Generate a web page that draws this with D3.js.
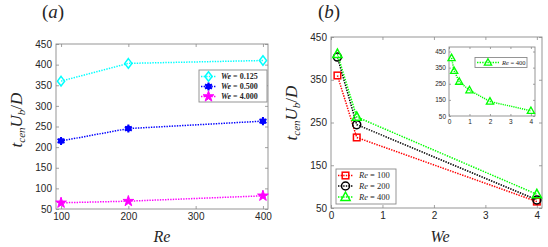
<!DOCTYPE html>
<html><head><meta charset="utf-8">
<script src="https://cdn.jsdelivr.net/npm/d3@7"></script>
<style>html,body{margin:0;padding:0;background:#fff;}svg{display:block;}</style>
</head><body>
<svg id="c" width="548" height="247"></svg>
<script>
// ---- data ----
const reA = [100, 200, 400];
const weLabelsA = ["0.125", "0.500", "4.000"];
const tA_we0125 = [360, 403, 410];
const tA_we0500 = [215, 245, 263];
const tA_we4000 = [65, 69, 82];
const xTicksA = [100, 200, 300, 400];
const yTicksA = [50, 100, 150, 200, 250, 300, 350, 400, 450];

const weB = [0.125, 0.5, 4];
const reLabelsB = ["100", "200", "400"];
const tB_re100 = [360, 215, 65];
const tB_re200 = [403, 245, 69];
const tB_re400 = [410, 263, 82];
const xTicksB = [0, 1, 2, 3, 4];
const yTicksB = [50, 150, 250, 350, 450];

const weInset = [0.125, 0.25, 0.5, 1, 2, 4];
const tInset = [410, 330, 263, 210, 140, 82];
const xTicksInset = [0, 1, 2, 3, 4];
const yTicksInset = [50, 150, 250, 350, 450];

// ---- drawing ----
const svg = d3.select("#c");
const AX = "#262626", FR = "#8a8a8a";
const sans = "Liberation Sans, Arial, sans-serif";
const serif = "Liberation Serif, Times New Roman, DejaVu Serif, serif";

function marker(g, type, color, x, y) {
  const sw = 1.5;
  if (type === "diamond") {
    g.append("path").attr("d", `M${x},${y-4.8}L${x+3.6},${y}L${x},${y+4.8}L${x-3.6},${y}Z`)
      .attr("fill", "none").attr("stroke", color).attr("stroke-width", sw);
  } else if (type === "asterisk") {
    g.append("circle").attr("cx", x).attr("cy", y).attr("r", 3).attr("fill", color);
    g.append("path").attr("d", d3.symbol(d3.symbolAsterisk, 45)()).attr("transform", `translate(${x},${y})`)
      .attr("fill", "none").attr("stroke", color).attr("stroke-width", 2);
  } else if (type === "star") {
    g.append("path").attr("d", d3.symbol(d3.symbolStar, 36)()).attr("transform", `translate(${x},${y})`)
      .attr("fill", color).attr("stroke", color).attr("stroke-width", 1);
  } else if (type === "square") {
    g.append("rect").attr("x", x-3.3).attr("y", y-3.3).attr("width", 6.6).attr("height", 6.6)
      .attr("fill", "none").attr("stroke", color).attr("stroke-width", sw);
  } else if (type === "circle") {
    g.append("circle").attr("cx", x).attr("cy", y).attr("r", 4)
      .attr("fill", "none").attr("stroke", color).attr("stroke-width", sw);
  } else if (type === "triangle") {
    g.append("path").attr("d", `M${x},${y-5}L${x+4.6},${y+3.4}L${x-4.6},${y+3.4}Z`)
      .attr("fill", "none").attr("stroke", color).attr("stroke-width", sw);
  } else if (type === "triangleSmall") {
    g.append("path").attr("d", `M${x},${y-3.8}L${x+3.6},${y+2.6}L${x-3.6},${y+2.6}Z`)
      .attr("fill", "none").attr("stroke", color).attr("stroke-width", 1.3);
  }
}

function series(g, xs, ys, x, y, color, type, dash) {
  const line = d3.line().x((d, i) => x(xs[i])).y(d => y(d));
  g.append("path").datum(ys).attr("d", line).attr("fill", "none")
    .attr("stroke", color).attr("stroke-width", 1.5).attr("stroke-dasharray", dash || "1.4,1.2");
  ys.forEach((v, i) => marker(g, type, color, x(xs[i]), y(v)));
}

function frame(g, x, y, xt, yt, fs, pad, tick) {
  const [x0, x1] = x.range(), [y0, y1] = y.range();
  const ax = g.append("g").attr("transform", `translate(0,${y0})`)
    .call(d3.axisBottom(x).tickValues(xt).tickSize(-tick).tickPadding(pad).tickFormat(d3.format("")));
  const ay = g.append("g").attr("transform", `translate(${x0},0)`)
    .call(d3.axisLeft(y).tickValues(yt).tickSize(-tick).tickPadding(pad).tickFormat(d3.format("")));
  const at = g.append("g").attr("transform", `translate(0,${y1})`)
    .call(d3.axisTop(x).tickValues(xt).tickSize(-tick).tickFormat(""));
  const ar = g.append("g").attr("transform", `translate(${x1},0)`)
    .call(d3.axisRight(y).tickValues(yt).tickSize(-tick).tickFormat(""));
  [ax, ay, at, ar].forEach(a => {
    a.attr("font-family", null).attr("font-size", null);
    a.select(".domain").remove();
    a.selectAll("line").attr("stroke", FR).attr("stroke-width", 0.8);
    a.selectAll("text").attr("fill", AX).attr("font-family", sans).attr("font-size", fs);
  });
  g.append("rect").attr("x", x0).attr("y", y1).attr("width", x1 - x0).attr("height", y0 - y1)
    .attr("fill", "none").attr("stroke", FR).attr("stroke-width", 0.9);
}

function ylabel(g, cx, cy) {
  const t = g.append("text").attr("transform", `translate(${cx},${cy}) rotate(-90)`)
    .attr("text-anchor", "middle").attr("font-family", serif).attr("font-size", 17)
    .attr("font-style", "italic").attr("fill", AX);
  t.append("tspan").text("t");
  t.append("tspan").text("cen").attr("font-size", 11).attr("dy", 3);
  t.append("tspan").text("U").attr("dy", -3);
  t.append("tspan").text("b").attr("font-size", 11).attr("dy", 3);
  t.append("tspan").text("/").attr("dy", -3).attr("font-style", "normal");
  t.append("tspan").text("D");
}

function title(g, x, y, letter) {
  const t = g.append("text").attr("x", x).attr("y", y).attr("font-family", serif)
    .attr("font-size", 19).attr("fill", AX);
  t.append("tspan").text("(");
  t.append("tspan").text(letter).attr("font-style", "italic");
  t.append("tspan").text(")");
}

function xlabel(g, cx, y, txt) {
  g.append("text").attr("x", cx).attr("y", y).attr("text-anchor", "middle")
    .attr("font-family", serif).attr("font-size", 16).attr("font-style", "italic")
    .attr("fill", AX).text(txt);
}

function legend(g, bx, by, bw, bh, items, lx0, lx1, tx, fs, bold) {
  g.append("rect").attr("x", bx).attr("y", by).attr("width", bw).attr("height", bh)
    .attr("fill", "#fff").attr("stroke", FR).attr("stroke-width", 0.9);
  items.forEach(it => {
    g.append("line").attr("x1", lx0).attr("x2", lx1).attr("y1", it.y).attr("y2", it.y)
      .attr("stroke", it.color).attr("stroke-width", 1.5).attr("stroke-dasharray", "1.4,1.2");
    marker(g, it.type, it.color, (lx0 + lx1) / 2, it.y);
    const t = g.append("text").attr("x", tx).attr("y", it.y + fs * 0.35)
      .attr("font-family", serif).attr("font-size", fs).attr("fill", AX)
      .attr("font-weight", bold ? "bold" : "normal");
    t.append("tspan").text(it.sym).attr("font-style", "italic");
    t.append("tspan").text(" = " + it.val);
  });
}

// ---- panel (a) ----
const gA = svg.append("g");
const xA = d3.scaleLinear().domain([92.5, 407.5]).range([56, 268]);
const yA = d3.scaleLinear().domain([50, 450]).range([209, 44]);
frame(gA, xA, yA, xTicksA, yTicksA, 10, 4, 3);
series(gA, reA, tA_we0125, xA, yA, "#00ffff", "diamond");
series(gA, reA, tA_we0500, xA, yA, "#0000ff", "asterisk");
series(gA, reA, tA_we4000, xA, yA, "#ff00ff", "star");
legend(gA, 199, 70, 68, 32, [
  {y: 76.5, color: "#00ffff", type: "diamond", sym: "We", val: weLabelsA[0]},
  {y: 86.5, color: "#0000ff", type: "asterisk", sym: "We", val: weLabelsA[1]},
  {y: 96.5, color: "#ff00ff", type: "star", sym: "We", val: weLabelsA[2]}
], 201, 216, 221, 8, true);
ylabel(gA, 22, 120);
xlabel(gA, 162, 242, "Re");
title(gA, 42, 18, "a");

// ---- panel (b) ----
const gB = svg.append("g");
const xB = d3.scaleLinear().domain([0, 4.1]).range([331, 542]);
const yB = d3.scaleLinear().domain([50, 450]).range([208, 37]);
frame(gB, xB, yB, xTicksB, yTicksB, 10, 4, 3);
series(gB, weB, tB_re100, xB, yB, "#ff0000", "square");
series(gB, weB, tB_re200, xB, yB, "#000000", "circle");
series(gB, weB, tB_re400, xB, yB, "#00ff00", "triangle");
legend(gB, 336, 169, 60, 35, [
  {y: 175.5, color: "#ff0000", type: "square", sym: "Re", val: reLabelsB[0]},
  {y: 186, color: "#000000", type: "circle", sym: "Re", val: reLabelsB[1]},
  {y: 197, color: "#00ff00", type: "triangle", sym: "Re", val: reLabelsB[2]}
], 338, 353, 359, 8.5, false);
ylabel(gB, 297, 113);
xlabel(gB, 440, 242, "We");
title(gB, 318, 18, "b");

// ---- inset ----
const gI = svg.append("g");
const xI = d3.scaleLinear().domain([0, 4.2]).range([449, 535]);
const yI = d3.scaleLinear().domain([50, 478]).range([116, 47]);
gI.append("rect").attr("x", 449).attr("y", 47).attr("width", 86).attr("height", 69).attr("fill", "#fff");
frame(gI, xI, yI, xTicksInset, yTicksInset, 6.5, 3, 2);
series(gI, weInset, tInset, xI, yI, "#00ff00", "triangleSmall", "1.2,1");
legend(gI, 475, 57.5, 52, 10, [
  {y: 62.5, color: "#00ff00", type: "triangleSmall", sym: "Re", val: "400"}
], 477, 499, 502, 6.5, false);
</script>
</body></html>
